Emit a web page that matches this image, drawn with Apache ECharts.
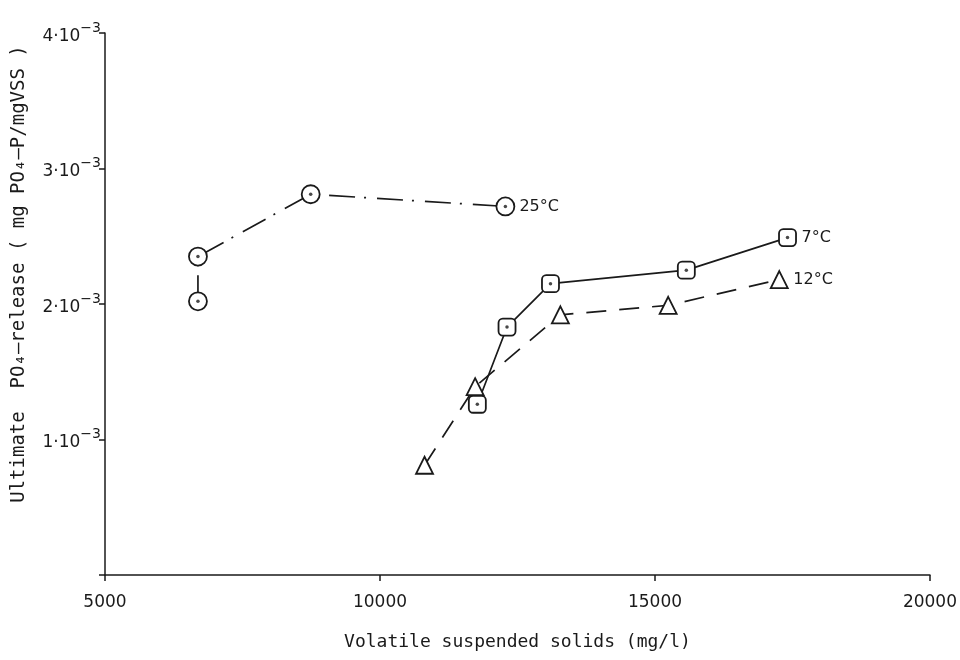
<!DOCTYPE html>
<html>
<head>
<meta charset="utf-8">
<script src="https://cdn.jsdelivr.net/npm/echarts@6/dist/echarts.min.js"></script>
<style>html,body{margin:0;padding:0;background:#fff}#c{width:960px;height:660px}</style>
</head>
<body>
<div id="c"></div>
<script>
// Data
const xTicks = [5000, 10000, 15000, 20000];
const yTicks = [0.001, 0.002, 0.003, 0.004];
const vss25 = [6690, 6690, 8740, 12280];
const rel25 = [0.00202, 0.00235, 0.00281, 0.00272];
const vss7 = [11770, 12310, 13100, 15570, 17410];
const rel7 = [0.00126, 0.00183, 0.00215, 0.00225, 0.00249];
const vss12 = [10810, 11730, 13280, 15240, 17260];
const rel12 = [0.00081, 0.00139, 0.00192, 0.00199, 0.00218];
const seriesNames = ['25°C', '7°C', '12°C'];

const pair = (xs, ys) => xs.map((x, i) => [x, ys[i]]);
const ink = '#1a1a1a';
const font = 'DejaVu Sans';
const titleFont = 'DejaVu Sans Mono';

const chart = echarts.init(document.getElementById('c'), null, {renderer: 'canvas'});

function lineSeries(name, data, symbol, size, dash) {
  return {
    name: name, type: 'line', data: data,
    symbol: symbol, symbolSize: size, showAllSymbol: true,
    lineStyle: {color: ink, width: 1.7, type: dash},
    itemStyle: {color: '#fff', borderColor: ink, borderWidth: 1.8},
    endLabel: {show: true, formatter: name, color: ink, fontFamily: font, fontSize: 16, distance: 14},
    z: 3, animation: false
  };
}
function dotSeries(data) {
  return {type: 'scatter', data: data, symbol: 'circle', symbolSize: 3.5,
    itemStyle: {color: ink}, z: 5, animation: false, silent: true};
}

chart.setOption({
  backgroundColor: '#fff',
  animation: false,
  grid: {left: 105, right: 27, top: 33, bottom: 85},
  xAxis: {
    type: 'value', min: xTicks[0], max: xTicks[xTicks.length - 1], interval: 5000,
    name: 'Volatile suspended solids (mg/l)', nameLocation: 'middle', nameGap: 58,
    nameTextStyle: {color: ink, fontFamily: titleFont, fontSize: 18},
    axisLine: {lineStyle: {color: ink, width: 1.5}},
    axisTick: {lineStyle: {color: ink, width: 1.5}, length: 6},
    axisLabel: {color: ink, fontFamily: font, fontSize: 17, margin: 19, formatter: v => String(v)},
    splitLine: {show: false}
  },
  yAxis: {
    type: 'value', min: 0, max: yTicks[yTicks.length - 1], interval: 0.001,
    name: 'Ultimate  PO\u2084\u2013release ( mg PO\u2084\u2013P/mgVSS )', nameLocation: 'middle', nameGap: 76, nameRotate: 90,
    nameTextStyle: {color: ink, fontFamily: titleFont, fontSize: 19, padding: [0, 0, 0, 60]},
    axisLine: {show: true, lineStyle: {color: ink, width: 1.5}},
    axisTick: {show: true, lineStyle: {color: ink, width: 1.5}, length: 6},
    axisLabel: {color: ink, fontFamily: font, fontSize: 17, margin: 4,
      formatter: v => v === 0 ? '' : '{b|' + Math.round(v * 1000) + '\u00b710}{s|\u22123}',
      rich: {
        b: {fontFamily: font, fontSize: 17, color: ink, verticalAlign: 'bottom', lineHeight: 24},
        s: {fontFamily: font, fontSize: 14, color: ink, verticalAlign: 'top', lineHeight: 24}
      }},
    splitLine: {show: false}
  },
  series: [
    lineSeries(seriesNames[0], pair(vss25, rel25), 'circle', 18, [26, 9, 2, 11]),
    dotSeries(pair(vss25, rel25)),
    lineSeries(seriesNames[1], pair(vss7, rel7), 'roundRect', 17, 'solid'),
    dotSeries(pair(vss7, rel7)),
    lineSeries(seriesNames[2], pair(vss12, rel12), 'triangle', 17, [20, 13])
  ]
});
</script>
</body>
</html>
